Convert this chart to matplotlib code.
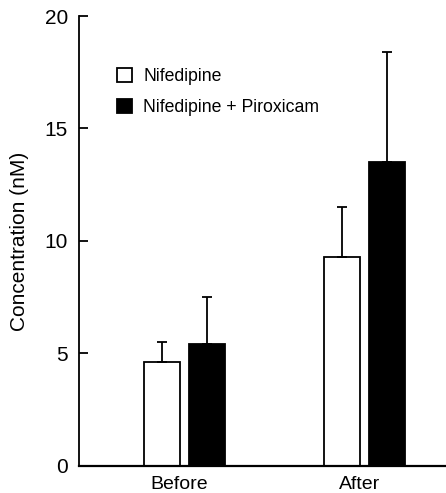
import numpy as np
import matplotlib.pyplot as plt

plt.rcParams['font.family'] = ['Liberation Sans', 'DejaVu Sans']

# data
groups = ['Before', 'After']
nifedipine = [4.6, 9.3]
nifedipine_err = [0.9, 2.2]
combo = [5.4, 13.5]
combo_err = [2.1, 4.9]

x = np.arange(len(groups))
w = 0.2

fig = plt.figure(figsize=(4.46, 4.93), dpi=100)
ax = fig.add_axes([0.177, 0.055, 0.823, 0.9125])

ax.bar(x - 0.125, nifedipine, w, color='white', edgecolor='black', linewidth=1.3,
       label='Nifedipine')
ax.bar(x + 0.125, combo, w, color='black', edgecolor='black', linewidth=1.3,
       label='Nifedipine + Piroxicam')
ax.errorbar(x - 0.125, nifedipine, yerr=[np.zeros(2), nifedipine_err], fmt='none',
            ecolor='black', elinewidth=1.3, capsize=3.7, capthick=1.3)
ax.errorbar(x + 0.125, combo, yerr=[np.zeros(2), combo_err], fmt='none',
            ecolor='black', elinewidth=1.3, capsize=3.7, capthick=1.3)

ax.set_xlim(-0.589, 1.45)
ax.set_ylim(0, 20)
ax.set_yticks([0, 5, 10, 15, 20])
ax.set_xticks(x - 0.03)
ax.set_xticklabels(groups)
ax.tick_params(axis='y', direction='in', length=6.5, width=1.3, labelsize=15, pad=8)
ax.tick_params(axis='x', length=0, labelsize=14, pad=7)
ax.set_ylabel('Concentration (nM)', fontsize=15, labelpad=11)

for s in ['top', 'right']:
    ax.spines[s].set_visible(False)
ax.spines['left'].set_linewidth(1.3)
ax.spines['bottom'].set_linewidth(1.6)

ax.legend(loc='upper left', bbox_to_anchor=(0.104, 0.885), frameon=False,
          borderaxespad=0, borderpad=0,
          fontsize=12.7, handlelength=0.85, handleheight=0.85, handletextpad=0.63,
          labelspacing=0.78)

plt.savefig('out.png', dpi=100)
